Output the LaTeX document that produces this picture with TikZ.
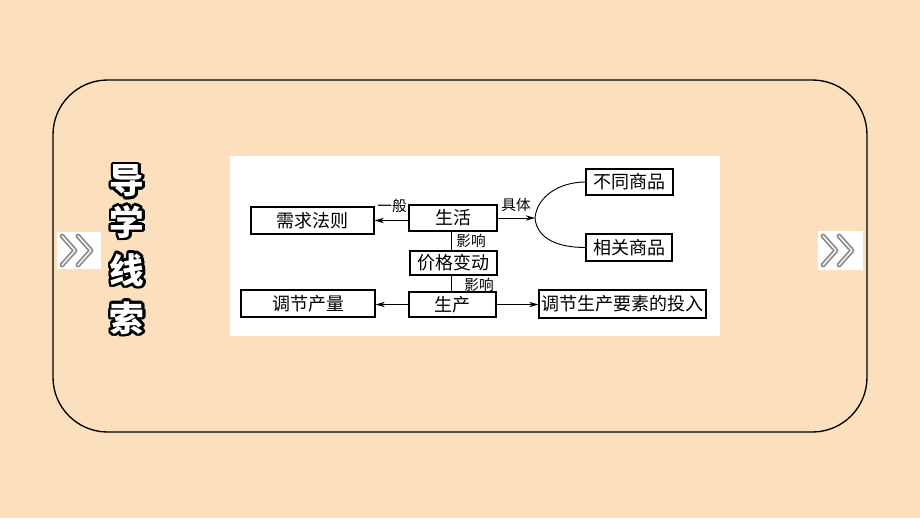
\documentclass[tikz,border=0pt]{standalone}
\usepackage{fontspec}
\newfontfamily\cjk{Noto Sans CJK SC}
\usetikzlibrary{arrows.meta}
\definecolor{bgpeach}{HTML}{FCE0BE}
\definecolor{chevgray}{HTML}{858585}
\definecolor{chevlight}{HTML}{F2F2F2}
\begin{document}
\begin{tikzpicture}[x=0.75pt,y=-0.75pt,
  box/.style={draw, line width=0.9pt, inner sep=0pt, font=\cjk\fontsize{13.5}{14}\selectfont},
  lbl/.style={font=\cjk\fontsize{11}{12}\selectfont, inner sep=0pt},
  arr/.style={-{Stealth[length=7pt,width=4pt]}, line width=0.7pt},
  ln/.style={line width=0.7pt},
  ttl/.style={font=\cjk\bfseries\fontsize{26}{28}\selectfont, inner sep=0pt},
  chev/.style={line width=3.6pt, line cap=round, line join=round, draw=chevgray},
  chevin/.style={line width=1.2pt, line cap=round, line join=round, draw=chevlight},
]
\fill[bgpeach] (0,0) rectangle (920,518);
\useasboundingbox (0,0) rectangle (920,518);
\draw[line width=1pt, rounded corners=41pt] (53,80) rectangle (867,432);
\fill[white] (230,156) rectangle (720,336);

% chevron icons
\fill[white] (57,232) rectangle (101,269);
\fill[white] (818,231) rectangle (863,270);
\foreach \dx in {0,761}{
  \begin{scope}[xshift=\dx*0.75pt]
    \draw[chev] (62,236) -- (75,250.5) -- (62,265);
    \draw[chev] (78,236) -- (91,250.5) -- (78,265);
    \draw[chevin] (62,236) -- (75,250.5) -- (62,265);
    \draw[chevin] (78,236) -- (91,250.5) -- (78,265);
  \end{scope}
}

% title with outline
\foreach \ch/\yy in {导/181,学/222,线/270,索/318}{
  \foreach \a in {0,22.5,...,337.5}{
    \node[ttl, text=black] at ([shift={(\a:1.9pt)}]127,\yy) {\ch};
  }
  \node[ttl, text=white] at (127,\yy) {\ch};
}

% boxes
\node[box, minimum width=92.25pt, minimum height=20.25pt] (xqfz) at (312.5,220.5) {需求法则};
\node[box, minimum width=66pt, minimum height=19.5pt] (sh) at (453,218) {生活};
\node[box, minimum width=65.25pt, minimum height=19.5pt] (btsp) at (629.5,182) {不同商品};
\node[box, minimum width=64.5pt, minimum height=20.25pt] (xgsp) at (629,247.5) {相关商品};
\node[box, minimum width=65.25pt, minimum height=18pt] (jgbd) at (453.5,263) {价格变动};
\node[box, minimum width=100.5pt, minimum height=20.25pt] (tjcl) at (308,303.5) {调节产量};
\node[box, minimum width=65.25pt, minimum height=18.75pt] (sc) at (452.5,304.5) {生产};
\node[box, minimum width=125.25pt, minimum height=21pt] (tjsc) at (622.5,304) {调节生产要素的投入};

\coordinate (fork) at (535,218);

% connectors
\draw[arr] (sh.west |- xqfz.east) -- (xqfz.east);
\node[lbl] (lyb) at (392,206) {一般};
\draw[arr] (sh.east) -- (fork);
\node[lbl] (ljt) at (516,205) {具体};
\draw[ln] (fork) .. controls (537,196) and (560,182) .. (btsp.west);
\draw[ln] (fork) .. controls (537,240) and (560,247.5) .. (xgsp.west);
\draw[ln] ([xshift=-1.5pt]sh.south) -- ([xshift=-1.5pt]sh.south |- jgbd.north);
\node[lbl] (lyx1) at (471,241) {影响};
\draw[ln] ([xshift=-1.5pt]jgbd.south) -- ([xshift=-1.5pt]jgbd.south |- sc.north);
\node[lbl] (lyx2) at (479,285) {影响};
\draw[arr] (sc.west) -- (tjcl.east |- sc.west);
\draw[arr] (sc.east) -- (tjsc.west |- sc.east);
\end{tikzpicture}
\end{document}
